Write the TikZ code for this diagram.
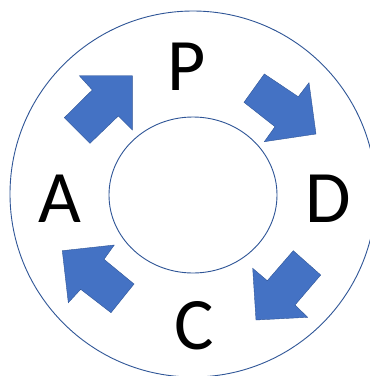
\documentclass[tikz,border=0pt]{standalone}
\usepackage{fontspec}
\setmainfont{Carlito}
\definecolor{ringblue}{HTML}{4472C4}
\definecolor{edgeblue}{HTML}{2F5597}
\tikzset{
  ring/.style={draw=edgeblue, line width=0.9pt},
  blockarrow/.style={fill=ringblue, draw=edgeblue, line width=0.4pt, line join=miter},
  letter/.style={anchor=base, inner sep=0pt, font=\fontsize{74}{74}\selectfont}
}
\begin{document}
\begin{tikzpicture}[x=1pt, y=-1pt]
\useasboundingbox (0,0) rectangle (370,376);
\fill[white] (0,0) rectangle (370,376);
% circles
\draw[ring] (193,194) circle (183);
\draw[ring] (193,195) ellipse (84 and 78);
% letters
\node[letter] (P) at (187,90) {P};
\node[letter] (D) at (328,222) {D};
\node[letter] (C) at (194,349) {C};
\node[letter] (A) at (60,222) {A};
% arrows
\draw[blockarrow] (132.3,75.7) -- (132.3,130) -- (118.3,116) -- (90,143.3) -- (64.3,117.7) -- (92.3,90) -- (79.3,75.7) -- cycle;
\draw[blockarrow] (316,134) -- (264.3,141.7) -- (275,126.7) -- (244,102.3) -- (264.3,74) -- (298.3,96.7) -- (309,82.7) -- cycle;
\draw[blockarrow] (256,320) -- (252.7,268.3) -- (267.3,280.7) -- (293.3,250.7) -- (320.7,275) -- (295,305) -- (307.7,317.3) -- cycle;
\draw[blockarrow] (62.3,250.7) -- (114.3,245) -- (104,259.3) -- (134,284) -- (111,312.7) -- (80.7,289.3) -- (68.3,302.7) -- cycle;
\end{tikzpicture}
\end{document}
